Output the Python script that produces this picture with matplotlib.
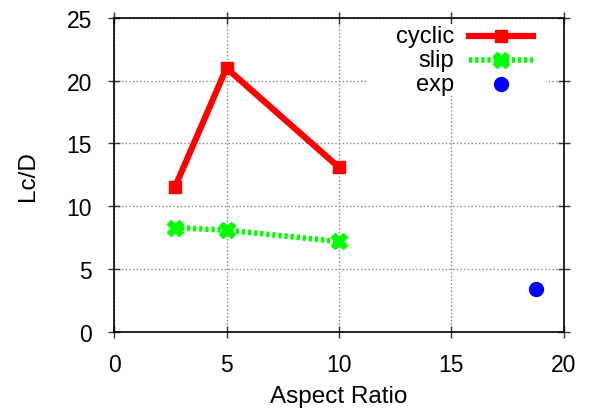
import numpy as np
import matplotlib
matplotlib.use('Agg')
import matplotlib.pyplot as plt
from matplotlib.patches import Rectangle
from matplotlib.lines import Line2D

plt.rcParams['font.family'] = ['Liberation Sans', 'DejaVu Sans']
TICKSIZE = 16.5
LABELSIZE = 17.5
KEYSIZE = 17

################################################################################
# data

aspect_ratio = [2.7, 5.0, 10.0]
cyclic = [11.5, 21.0, 13.1]
slip = [8.3, 8.1, 7.2]

exp_aspect = [18.75]
exp_lcd = [3.45]

xticks = [0, 5, 10, 15, 20]
yticks = [0, 5, 10, 15, 20, 25]

################################################################################

fig = plt.figure(figsize=(5.91, 4.10), dpi=100)
ax = fig.add_axes([0.193, 0.188, 0.761, 0.766])

ax.plot(aspect_ratio, cyclic, color='#ff0000', lw=4.5, marker='s', ms=9,
        zorder=3)
ax.plot(aspect_ratio, slip, color='#00ff00', lw=4, ls=(0, (0.6, 0.5)),
        marker='X', ms=11, zorder=3)
ax.plot(exp_aspect, exp_lcd, color='#0000ff', ls='none', marker='o', ms=10,
        zorder=3)

ax.set_xlim(0, 20)
ax.set_ylim(0, 25)
ax.set_xticks(xticks)
ax.set_yticks(yticks)
ax.tick_params(direction='inout', length=8, width=1, top=True, right=True,
               labelsize=TICKSIZE, color='#333333')
ax.tick_params(axis='x', pad=11)
ax.tick_params(axis='y', pad=12)
ax.grid(True, ls=':', lw=1, color='#888888')
for spine in ax.spines.values():
    spine.set_linewidth(1.2)

ax.set_xlabel('Aspect Ratio', fontsize=LABELSIZE, labelpad=7)
ax.set_ylabel('Lc/D', fontsize=LABELSIZE, labelpad=20)

################################################################################
# gnuplot style key: right aligned labels, sample on the right, opaque box

ax.add_patch(Rectangle((0.56, 0.752), 0.40, 0.228, transform=ax.transAxes,
                       facecolor='white', edgecolor='none', zorder=1.8))

key = [('cyclic', dict(color='#ff0000', lw=4.5, marker='s', ms=9)),
       ('slip', dict(color='#00ff00', lw=4, ls=(0, (0.6, 0.5)),
                     marker='X', ms=11)),
       ('exp', dict(color='#0000ff', ls='none', marker='o', ms=10))]
rows = [0.943, 0.866, 0.790]
for (label, style), y in zip(key, rows):
    ax.text(0.756, y, label, transform=ax.transAxes, ha='right', va='center',
            fontsize=KEYSIZE, zorder=4)
    ax.add_line(Line2D([0.789, 0.931], [y, y], transform=ax.transAxes,
                       markevery=[], zorder=4, **style))
    ax.add_line(Line2D([0.86], [y], transform=ax.transAxes, zorder=4,
                       **{**style, 'ls': 'none'}))

fig.savefig('out.png', dpi=100)
